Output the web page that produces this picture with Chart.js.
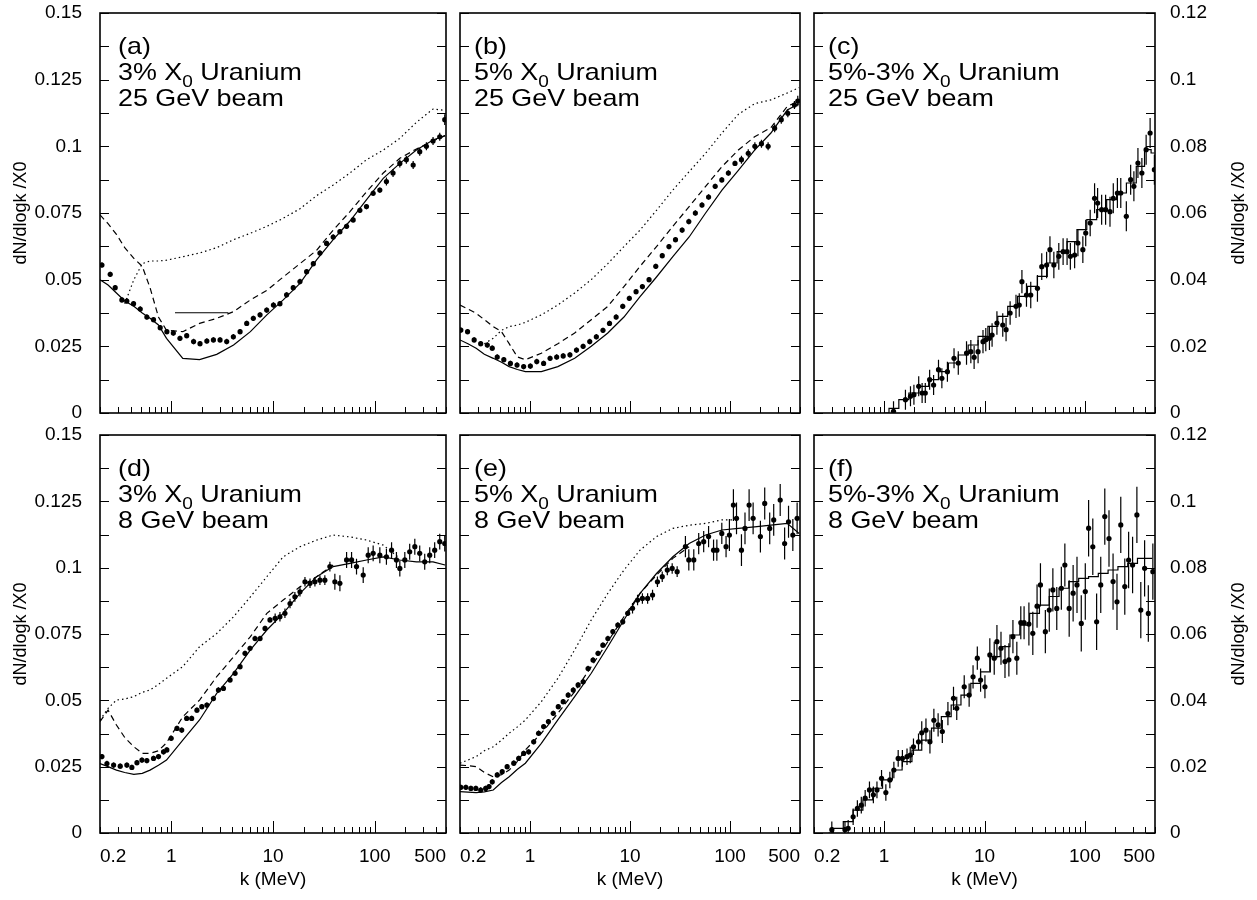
<!DOCTYPE html>
<html>
<head>
<meta charset="utf-8">
<script src="https://cdn.jsdelivr.net/npm/chart.js@4.4.1/dist/chart.umd.min.js"></script>
<style>
  body { margin: 0; background: #fff; width: 1257px; height: 900px; position: relative; overflow: hidden;
         font-family: "Liberation Sans", Arial, sans-serif; color: #000; }
  canvas { position: absolute; }
  .lab { position: absolute; font-size: 24px; line-height: 26px; white-space: nowrap;
         transform: scaleX(1.12); transform-origin: 0 0; z-index: 2; }
  .lab sub { font-size: 17px; vertical-align: -7px; line-height: 0; }
  .ytitle { position: absolute; font-size: 18px; white-space: nowrap; z-index: 2;
            transform: translate(-50%, -50%) rotate(-90deg); }
</style>
</head>
<body>
<script>
// k (MeV) grid shared by the simulated histograms of panels a, b, d, e
const K_GRID = [0.2, 0.24, 0.29, 0.35, 0.43, 0.52, 0.62, 0.75, 0.9, 1.3, 1.9, 2.8, 4.1, 6, 8.7, 12.6, 18.4, 26.8, 39, 57, 83, 121, 176, 256, 373, 490];
const X_TICKS = [0.2, 1, 10, 100, 500];

// (a) 3% X0, 25 GeV
const A_SOLID  = [0.050, 0.048, 0.045, 0.042, 0.040, 0.0375, 0.0355, 0.033, 0.028, 0.0205, 0.020, 0.022, 0.0255, 0.0305, 0.0368, 0.0424, 0.0486, 0.0574, 0.065, 0.072, 0.080, 0.088, 0.0936, 0.0986, 0.1024, 0.104];
const A_DASHED = [0.0743, 0.071, 0.067, 0.062, 0.058, 0.055, 0.047, 0.036, 0.031, 0.0305, 0.0336, 0.0355, 0.038, 0.0424, 0.046, 0.051, 0.056, 0.061, 0.0686, 0.0755, 0.083, 0.090, 0.0955, 0.099, 0.102, 0.104];
const A_DOTTED = [null, null, null, 0.041, 0.050, 0.056, 0.057, 0.057, 0.0573, 0.0586, 0.060, 0.062, 0.065, 0.0674, 0.070, 0.073, 0.0766, 0.0815, 0.0855, 0.090, 0.095, 0.0986, 0.103, 0.109, 0.114, 0.1135];
const A_BAR_K = [1.09, 3.65];
const A_BAR_Y = [0.0376, 0.0376];
const A_PT_K = [0.209, 0.252, 0.282, 0.328, 0.367, 0.427, 0.497, 0.577, 0.671, 0.780, 0.907, 1.05, 1.22, 1.42, 1.66, 1.92, 2.24, 2.60, 3.02, 3.51, 4.08, 4.75, 5.52, 6.41, 7.46, 8.67, 10.1, 11.7, 13.6, 15.8, 18.4, 21.4, 24.9, 28.9, 33.6, 39.0, 45.4, 52.8, 61.3, 71.3, 82.8, 96.3, 112, 130, 151, 176, 204, 238, 276, 321, 373, 434, 486];
const A_PT_Y = [0.0555, 0.052, 0.047, 0.0424, 0.042, 0.041, 0.039, 0.036, 0.035, 0.032, 0.0305, 0.030, 0.028, 0.029, 0.0268, 0.026, 0.027, 0.0274, 0.0274, 0.0268, 0.0286, 0.0305, 0.0336, 0.0355, 0.0368, 0.0386, 0.0405, 0.041, 0.0443, 0.047, 0.0493, 0.053, 0.056, 0.060, 0.0636, 0.066, 0.068, 0.070, 0.0724, 0.076, 0.0774, 0.0824, 0.0836, 0.0868, 0.090, 0.0936, 0.095, 0.093, 0.098, 0.100, 0.102, 0.1036, 0.110];
const A_PT_ERR = [0.001, 0.001, 0.001, 0.001, 0.001, 0.001, 0.001, 0.001, 0.001, 0.001,
  0.001, 0.001, 0.001, 0.001, 0.001, 0.001, 0.001, 0.001, 0.001, 0.001,
  0.001, 0.001, 0.001, 0.001, 0.001, 0.001, 0.001, 0.001, 0.001, 0.001,
  0.001, 0.001, 0.001, 0.001, 0.001, 0.001, 0.001, 0.001, 0.001, 0.001,
  0.001, 0.001, 0.001, 0.0015, 0.0015, 0.0015, 0.0015, 0.0015, 0.0015, 0.0015,
  0.0015, 0.0015, 0.002];

// (b) 5% X0, 25 GeV
const B_SOLID  = [0.0274, 0.026, 0.0243, 0.022, 0.0205, 0.019, 0.0174, 0.0163, 0.0155, 0.0155, 0.0174, 0.0205, 0.025, 0.030, 0.036, 0.0436, 0.051, 0.0586, 0.066, 0.075, 0.0836, 0.091, 0.0986, 0.105, 0.1136, 0.116];
const B_DASHED = [0.0405, 0.039, 0.0374, 0.035, 0.0324, 0.0305, 0.026, 0.021, 0.020, 0.0224, 0.026, 0.030, 0.035, 0.040, 0.0474, 0.055, 0.0624, 0.070, 0.0774, 0.085, 0.0924, 0.0986, 0.1036, 0.107, 0.115, 0.117];
const B_DOTTED = [null, null, null, 0.026, 0.028, 0.031, 0.0324, 0.033, 0.034, 0.0368, 0.0405, 0.045, 0.050, 0.056, 0.0624, 0.0686, 0.076, 0.0836, 0.0905, 0.0974, 0.105, 0.112, 0.116, 0.1174, 0.120, 0.122];
const B_PT_K = [0.204, 0.238, 0.277, 0.322, 0.375, 0.420, 0.471, 0.548, 0.638, 0.743, 0.865, 1.01, 1.17, 1.37, 1.59, 1.85, 2.15, 2.51, 2.92, 3.40, 3.96, 4.61, 5.37, 6.24, 7.27, 8.46, 9.85, 11.5, 13.3, 15.5, 18.1, 21.0, 24.5, 28.5, 33.2, 38.7, 45.0, 52.4, 61.0, 71.0, 82.7, 96.2, 112, 130, 152, 177, 206, 240, 279, 325, 378, 440, 475];
const B_PT_Y = [0.0311, 0.0305, 0.0274, 0.026, 0.0255, 0.0243, 0.021, 0.020, 0.0186, 0.018, 0.0174, 0.0176, 0.0193, 0.0186, 0.0205, 0.021, 0.0214, 0.0218, 0.0236, 0.025, 0.0268, 0.0286, 0.031, 0.0336, 0.036, 0.040, 0.043, 0.0455, 0.0474, 0.050, 0.055, 0.059, 0.0624, 0.065, 0.0686, 0.0718, 0.075, 0.078, 0.081, 0.085, 0.0874, 0.090, 0.0936, 0.095, 0.0974, 0.100, 0.101, 0.100, 0.1068, 0.110, 0.1124, 0.1155, 0.117];
const B_PT_ERR = [0.001, 0.001, 0.001, 0.001, 0.001, 0.001, 0.001, 0.001, 0.001, 0.001,
  0.001, 0.001, 0.001, 0.001, 0.001, 0.001, 0.001, 0.001, 0.001, 0.001,
  0.001, 0.001, 0.001, 0.001, 0.001, 0.001, 0.001, 0.001, 0.001, 0.001,
  0.001, 0.001, 0.001, 0.001, 0.001, 0.001, 0.001, 0.001, 0.001, 0.001,
  0.001, 0.001, 0.001, 0.0015, 0.0015, 0.0015, 0.0015, 0.0015, 0.0015, 0.0015,
  0.0015, 0.0015, 0.002];

// (c) 5%-3% X0, 25 GeV
const C_HIST_K = [1.0, 1.25, 1.57, 1.98, 2.48, 3.11, 3.9, 4.89, 6.14, 7.7, 9.66, 12.1, 15.2, 19.1, 23.9, 30, 37.7, 47.3, 59.3, 74.5, 93.4, 117, 147, 185, 232, 290, 365, 424, 493];
const C_HIST_Y = [0, 0.0014, 0.004, 0.006, 0.008, 0.010, 0.0124, 0.015, 0.0174, 0.0204, 0.023, 0.026, 0.029, 0.032, 0.035, 0.038, 0.041, 0.045, 0.0484, 0.0514, 0.055, 0.058, 0.061, 0.064, 0.066, 0.069, 0.074, 0.079, 0.078];
const C_PT_K = [1.24, 1.63, 1.83, 1.98, 2.21, 2.39, 2.57, 2.84, 3.11, 3.48, 3.76, 4.27, 4.97, 5.48, 6.62, 7.31, 7.88, 8.63, 9.66, 10.3, 11.2, 11.9, 13.3, 15.2, 16.4, 18.0, 20.6, 22.2, 23.6, 26.2, 28.9, 33.7, 37.2, 41.6, 44.9, 49.1, 55.0, 60.7, 66.5, 71.7, 79.1, 85.3, 95.5, 102, 113, 125, 134, 147, 161, 178, 192, 211, 228, 259, 286, 308, 338, 370, 408, 447, 493];
const C_PT_Y = [0.0005, 0.004, 0.005, 0.0055, 0.008, 0.006, 0.006, 0.010, 0.0084, 0.013, 0.0104, 0.0124, 0.0164, 0.015, 0.018, 0.0184, 0.0167, 0.0184, 0.0214, 0.022, 0.0224, 0.0234, 0.027, 0.0264, 0.025, 0.030, 0.032, 0.0324, 0.0394, 0.0354, 0.0354, 0.0374, 0.0439, 0.0444, 0.049, 0.0444, 0.047, 0.0484, 0.0484, 0.047, 0.0474, 0.051, 0.049, 0.054, 0.057, 0.0644, 0.063, 0.061, 0.061, 0.0604, 0.0644, 0.066, 0.066, 0.059, 0.070, 0.068, 0.075, 0.072, 0.079, 0.084, 0.073];
const C_PT_ERR = [0.003, 0.003, 0.003, 0.003, 0.003, 0.003, 0.003, 0.003, 0.003, 0.003,
  0.003, 0.003, 0.003, 0.0035, 0.0035, 0.0035, 0.0035, 0.0035, 0.0035, 0.0035,
  0.0035, 0.0035, 0.0035, 0.0035, 0.0035, 0.0035, 0.0035, 0.0035, 0.0035, 0.0035,
  0.004, 0.004, 0.004, 0.004, 0.004, 0.004, 0.004, 0.004, 0.004, 0.004,
  0.004, 0.004, 0.004, 0.004, 0.004, 0.0045, 0.0045, 0.0045, 0.0045, 0.0045,
  0.0045, 0.0045, 0.0045, 0.0045, 0.0045, 0.0045, 0.0045, 0.0045, 0.0045, 0.0045, 0.0045];

// (d) 3% X0, 8 GeV
const D_SOLID  = [0.0262, 0.025, 0.0237, 0.0228, 0.0221, 0.0225, 0.0237, 0.0255, 0.0275, 0.035, 0.0426, 0.0526, 0.0602, 0.069, 0.0765, 0.0828, 0.0903, 0.0966, 0.1004, 0.1016, 0.1029, 0.1041, 0.1029, 0.1022, 0.1022, 0.101];
const D_DASHED = [0.042, 0.0463, 0.0407, 0.036, 0.0325, 0.030, 0.030, 0.031, 0.034, 0.0438, 0.0501, 0.0589, 0.0664, 0.074, 0.0828, 0.0878, 0.0928, 0.0966, 0.101, null, null, null, null, null, null, null];
const D_DOTTED = [0.0426, 0.047, 0.0501, 0.0505, 0.0514, 0.053, 0.0539, 0.056, 0.0583, 0.0627, 0.0702, 0.0752, 0.0815, 0.089, 0.0966, 0.1041, 0.1079, 0.1104, 0.1123, 0.1116, 0.1104, 0.1085, 0.1035, null, null, null];
const D_PT_K = [0.209, 0.234, 0.272, 0.316, 0.367, 0.411, 0.461, 0.516, 0.577, 0.671, 0.751, 0.841, 0.907, 1.0, 1.14, 1.27, 1.42, 1.59, 1.79, 2.0, 2.24, 2.60, 2.91, 3.26, 3.79, 4.24, 4.75, 5.31, 5.95, 6.66, 7.46, 8.35, 9.34, 10.5, 11.7, 13.1, 14.7, 16.4, 18.4, 20.6, 23.1, 25.8, 28.9, 32.3, 36.2, 40.5, 45.4, 52.8, 59.1, 66.1, 76.9, 86.1, 96.3, 112, 130, 146, 163, 176, 197, 220, 247, 276, 309, 346, 387, 434, 486];
const D_PT_Y = [0.0288, 0.0262, 0.0256, 0.0252, 0.0256, 0.0247, 0.0265, 0.0275, 0.0273, 0.0281, 0.0288, 0.0306, 0.0313, 0.0357, 0.0394, 0.0388, 0.0432, 0.0432, 0.0463, 0.0476, 0.0482, 0.0507, 0.0539, 0.0545, 0.0577, 0.0602, 0.0627, 0.0677, 0.0696, 0.0733, 0.0733, 0.0771, 0.0803, 0.0809, 0.0815, 0.0828, 0.0865, 0.089, 0.0909, 0.0947, 0.0941, 0.0947, 0.0953, 0.0953, 0.1004, 0.0947, 0.0941, 0.1029, 0.1029, 0.1004, 0.0972, 0.1047, 0.1054, 0.1047, 0.1041, 0.1066, 0.1029, 0.0997, 0.1029, 0.106, 0.1079, 0.1054, 0.1022, 0.1047, 0.1066, 0.1098, 0.1091];
const D_PT_ERR = [0.001, 0.001, 0.001, 0.001, 0.001, 0.001, 0.001, 0.001, 0.001, 0.001,
  0.001, 0.001, 0.001, 0.001, 0.001, 0.001, 0.001, 0.001, 0.001, 0.001,
  0.001, 0.001, 0.001, 0.001, 0.001, 0.001, 0.001, 0.001, 0.001, 0.001,
  0.001, 0.001, 0.001, 0.0018, 0.0018, 0.0018, 0.0018, 0.0018, 0.0018, 0.0018,
  0.0018, 0.0018, 0.0018, 0.0018, 0.0018, 0.003, 0.003, 0.003, 0.003, 0.003,
  0.003, 0.003, 0.003, 0.003, 0.003, 0.003, 0.003, 0.003, 0.003, 0.003,
  0.003, 0.003, 0.003, 0.003, 0.003, 0.003, 0.003];

// (e) 5% X0, 8 GeV
const E_SOLID  = [0.0156, 0.0154, 0.0152, 0.0155, 0.0162, 0.019, 0.0212, 0.024, 0.0263, 0.0338, 0.0426, 0.0514, 0.0602, 0.0702, 0.0803, 0.0903, 0.0978, 0.1041, 0.1091, 0.1123, 0.1142, 0.1148, 0.1154, 0.116, 0.1167, 0.1129];
const E_DASHED = [0.0256, 0.0254, 0.025, 0.0228, 0.0212, 0.022, 0.0237, 0.027, 0.0313, 0.0376, 0.0451, 0.0533, 0.0627, 0.0721, 0.0815, 0.0903, 0.0972, 0.1035, 0.1079, null, null, null, null, null, null, null];
const E_DOTTED = [0.0263, 0.0275, 0.0288, 0.031, 0.0325, 0.035, 0.0376, 0.040, 0.0426, 0.0495, 0.0583, 0.069, 0.0803, 0.0903, 0.0991, 0.1066, 0.1117, 0.1148, 0.116, 0.1167, 0.118, 0.118, null, null, null, null];
const E_PT_K = [0.204, 0.229, 0.257, 0.288, 0.322, 0.361, 0.390, 0.420, 0.471, 0.528, 0.592, 0.689, 0.772, 0.865, 0.970, 1.09, 1.22, 1.37, 1.53, 1.71, 1.92, 2.15, 2.41, 2.71, 3.03, 3.40, 3.81, 4.27, 4.79, 5.36, 6.01, 6.74, 7.55, 8.46, 9.48, 10.6, 11.9, 13.3, 15.0, 16.8, 18.8, 21.0, 23.6, 26.4, 29.6, 35.8, 38.7, 43.4, 48.6, 54.5, 61.0, 68.4, 73.8, 82.7, 91.2, 98.5, 108, 116, 130, 141, 155, 170, 201, 222, 249, 273, 317, 351, 384, 424, 468];
const E_PT_Y = [0.0172, 0.0172, 0.0168, 0.0168, 0.0162, 0.0168, 0.0175, 0.0193, 0.0219, 0.0231, 0.025, 0.0263, 0.0281, 0.030, 0.0306, 0.0344, 0.0376, 0.0401, 0.042, 0.0451, 0.0476, 0.0495, 0.052, 0.0539, 0.0558, 0.057, 0.062, 0.0652, 0.0677, 0.0708, 0.0733, 0.0759, 0.0784, 0.0796, 0.0828, 0.0847, 0.0878, 0.0884, 0.0884, 0.0897, 0.0947, 0.0966, 0.0991, 0.0997, 0.0985, 0.1079, 0.1029, 0.1029, 0.1091, 0.1098, 0.1117, 0.1066, 0.1066, 0.1129, 0.1079, 0.1123, 0.1236, 0.1186, 0.1066, 0.1148, 0.1236, 0.1186, 0.1117, 0.1242, 0.1148, 0.118, 0.1255, 0.1091, 0.1173, 0.1123, 0.1186];
const E_PT_ERR = [0.001, 0.001, 0.001, 0.001, 0.001, 0.001, 0.001, 0.001, 0.001, 0.001,
  0.001, 0.001, 0.001, 0.001, 0.001, 0.001, 0.001, 0.001, 0.001, 0.001,
  0.001, 0.001, 0.001, 0.001, 0.001, 0.001, 0.001, 0.001, 0.001, 0.001,
  0.001, 0.001, 0.001, 0.001, 0.001, 0.002, 0.002, 0.002, 0.002, 0.002,
  0.002, 0.002, 0.002, 0.002, 0.002, 0.004, 0.004, 0.004, 0.004, 0.004,
  0.004, 0.004, 0.004, 0.004, 0.004, 0.006, 0.006, 0.006, 0.006, 0.006,
  0.006, 0.006, 0.006, 0.006, 0.006, 0.006, 0.006, 0.006, 0.006, 0.006, 0.006];

// (f) 5%-3% X0, 8 GeV
const F_HIST_K = [0.279, 0.35, 0.438, 0.549, 0.687, 0.861, 1.08, 1.35, 1.69, 2.12, 2.65, 3.32, 4.16, 5.21, 6.52, 8.17, 10.2, 12.8, 16.0, 20.1, 25.2, 31.5, 39.5, 49.4, 61.9, 77.5, 97.1, 122, 152, 191, 239, 299, 374, 469];
const F_HIST_Y = [0, 0.0014, 0.0034, 0.0069, 0.010, 0.0135, 0.016, 0.019, 0.0215, 0.025, 0.028, 0.0316, 0.0351, 0.0386, 0.0416, 0.0451, 0.0486, 0.0532, 0.0562, 0.0597, 0.0627, 0.0662, 0.0687, 0.0713, 0.0738, 0.0758, 0.0768, 0.0773, 0.0783, 0.0793, 0.0803, 0.0813, 0.0828, 0.0828];
const F_PT_K = [0.301, 0.407, 0.438, 0.491, 0.541, 0.592, 0.647, 0.714, 0.781, 0.848, 0.942, 1.04, 1.14, 1.25, 1.38, 1.52, 1.69, 1.82, 1.96, 2.20, 2.37, 2.61, 2.86, 3.13, 3.45, 3.80, 4.32, 4.91, 5.29, 6.28, 7.03, 7.69, 8.48, 9.14, 10.1, 11.3, 12.5, 13.3, 14.6, 16.0, 17.5, 19.2, 21.0, 23.0, 24.8, 27.7, 30.3, 33.4, 36.1, 40.4, 44.2, 48.0, 52.5, 58.3, 63.2, 69.8, 76.4, 83.5, 92.1, 101, 109, 120, 131, 144, 158, 174, 191, 209, 228, 250, 273, 299, 330, 361, 394, 429, 476];
const F_PT_Y = [0.001, 0.001, 0.0014, 0.0049, 0.0074, 0.0084, 0.0105, 0.013, 0.0115, 0.013, 0.0165, 0.0122, 0.016, 0.019, 0.0225, 0.0225, 0.023, 0.0235, 0.026, 0.0275, 0.0302, 0.031, 0.0275, 0.034, 0.0326, 0.0306, 0.036, 0.0406, 0.0376, 0.0441, 0.0416, 0.0471, 0.0527, 0.0461, 0.0441, 0.0537, 0.0527, 0.0577, 0.0557, 0.0517, 0.0522, 0.0592, 0.0527, 0.0634, 0.0634, 0.063, 0.0602, 0.0684, 0.0748, 0.0607, 0.0672, 0.0733, 0.0677, 0.0738, 0.0808, 0.0677, 0.0723, 0.0748, 0.0632, 0.0728, 0.0919, 0.0863, 0.0637, 0.0748, 0.0954, 0.0888, 0.0758, 0.0697, 0.0929, 0.0743, 0.0823, 0.0808, 0.0959, 0.0672, 0.0798, 0.0662, 0.0788];
const F_PT_ERR = [0.0025, 0.0025, 0.0025, 0.0025, 0.0025, 0.0025, 0.0025, 0.0025, 0.0025, 0.0025,
  0.0025, 0.0025, 0.0025, 0.0025, 0.0025, 0.0025, 0.0025, 0.0025, 0.0025, 0.0025,
  0.0035, 0.0035, 0.0035, 0.0035, 0.0035, 0.0035, 0.0035, 0.0035, 0.0035, 0.0035,
  0.0035, 0.0035, 0.0035, 0.0035, 0.0035, 0.005, 0.005, 0.005, 0.005, 0.005,
  0.005, 0.005, 0.005, 0.005, 0.005, 0.0065, 0.0065, 0.0065, 0.0065, 0.0065,
  0.0065, 0.0065, 0.0065, 0.0065, 0.0065, 0.0085, 0.0085, 0.0085, 0.0085, 0.0085,
  0.0085, 0.0085, 0.0085, 0.0085, 0.0085, 0.0085, 0.0085, 0.0085, 0.0085, 0.0085,
  0.0085, 0.0085, 0.0085, 0.0085, 0.0085, 0.0085, 0.0085];

const TAGS = ['(a)', '(b)', '(c)', '(d)', '(e)', '(f)'];
const TARGETS = ['3%', '5%', '5%-3%'];
const BEAMS = ['25 GeV beam', '8 GeV beam'];
const Y_TITLE = 'dN/dlogk /X0';

// page layout of the 3 x 2 grid
const COLS = [
  { left: 0,   width: 452, padR: 6, yAxis: 'left',  yMax: 0.15, yStep: 0.025, yMinor: 0.0125, plotLeft: 100 },
  { left: 456, width: 350, padR: 6, yAxis: null,    yMax: 0.15, yStep: 0.025, yMinor: 0.0125, plotLeft: 456 },
  { left: 810, width: 447, padR: 0, yAxis: 'right', yMax: 0.12, yStep: 0.02,  yMinor: 0.01,   plotLeft: 810 }
];
const ROWS = [
  { top: 0,   height: 430, padT: 13, padB: 17, xAxis: false },
  { top: 425, height: 475, padT: 10, padB: 0,  xAxis: true }
];

function pairs(ks, ys) {
  return ks.map((k, i) => ({ x: k, y: ys[i] }));
}
function hist(ks, ys, dash, stepped) {
  return { data: pairs(ks, ys), borderColor: '#000', borderWidth: 1.2, borderDash: dash || [],
           pointRadius: 0, stepped: stepped || false, spanGaps: false, fill: false, tension: 0 };
}
function points(ks, ys, errs) {
  return { data: pairs(ks, ys), errors: errs, showLine: false, pointRadius: 2.6,
           pointBackgroundColor: '#000', pointBorderColor: '#000', pointBorderWidth: 0 };
}

const DASH = [6, 4];
const DOT = [1.5, 3];
const PANEL_SETS = [
  [hist(K_GRID, A_SOLID), hist(K_GRID, A_DASHED, DASH), hist(K_GRID, A_DOTTED, DOT), hist(A_BAR_K, A_BAR_Y), points(A_PT_K, A_PT_Y, A_PT_ERR)],
  [hist(K_GRID, B_SOLID), hist(K_GRID, B_DASHED, DASH), hist(K_GRID, B_DOTTED, DOT), points(B_PT_K, B_PT_Y, B_PT_ERR)],
  [hist(C_HIST_K, C_HIST_Y, null, 'middle'), points(C_PT_K, C_PT_Y, C_PT_ERR)],
  [hist(K_GRID, D_SOLID), hist(K_GRID, D_DASHED, DASH), hist(K_GRID, D_DOTTED, DOT), points(D_PT_K, D_PT_Y, D_PT_ERR)],
  [hist(K_GRID, E_SOLID), hist(K_GRID, E_DASHED, DASH), hist(K_GRID, E_DOTTED, DOT), points(E_PT_K, E_PT_Y, E_PT_ERR)],
  [hist(F_HIST_K, F_HIST_Y, null, 'middle'), points(F_PT_K, F_PT_Y, F_PT_ERR)]
];

// box with inward ticks, ROOT style
const frame = {
  id: 'frame',
  afterDatasetsDraw(chart, args, opts) {
    const { ctx, chartArea: a, scales: { x, y } } = chart;
    ctx.save();
    ctx.strokeStyle = '#000';
    ctx.lineWidth = 1;
    ctx.beginPath();
    const n = Math.round(y.max / opts.minor);
    for (let i = 0; i <= n; i++) {
      const py = Math.round(y.getPixelForValue(i * opts.minor)) + 0.5;
      ctx.moveTo(a.left, py); ctx.lineTo(a.left + 9, py);
      ctx.moveTo(a.right - 9, py); ctx.lineTo(a.right, py);
    }
    for (let e = -1; e <= 2; e++) {
      for (let m = 1; m <= 9; m++) {
        const v = m * Math.pow(10, e);
        if (v < 0.2 || v > 500) continue;
        const px = Math.round(x.getPixelForValue(v)) + 0.5;
        ctx.moveTo(px, a.bottom); ctx.lineTo(px, a.bottom - (m === 1 ? 12 : 6));
      }
    }
    ctx.stroke();
    ctx.lineWidth = 1.6;
    ctx.strokeRect(a.left, a.top, a.right - a.left, a.bottom - a.top);
    ctx.restore();
  }
};

const errorBars = {
  id: 'errorBars',
  afterDatasetsDraw(chart) {
    const { ctx, chartArea: a, scales: { x, y } } = chart;
    ctx.save();
    ctx.beginPath();
    ctx.rect(a.left, a.top, a.right - a.left, a.bottom - a.top);
    ctx.clip();
    ctx.strokeStyle = '#000';
    ctx.lineWidth = 1.2;
    ctx.beginPath();
    chart.data.datasets.forEach(ds => {
      if (!ds.errors) return;
      ds.data.forEach((p, j) => {
        const px = x.getPixelForValue(p.x);
        ctx.moveTo(px, y.getPixelForValue(p.y - ds.errors[j]));
        ctx.lineTo(px, y.getPixelForValue(p.y + ds.errors[j]));
      });
    });
    ctx.stroke();
    ctx.restore();
  }
};

Chart.defaults.font.family = '"Liberation Sans", Arial, sans-serif';
Chart.defaults.color = '#000';

ROWS.forEach((row, r) => {
  COLS.forEach((col, c) => {
    const idx = r * 3 + c;
    const cv = document.createElement('canvas');
    cv.width = col.width; cv.height = row.height;
    cv.style.left = col.left + 'px'; cv.style.top = row.top + 'px';
    document.body.appendChild(cv);

    new Chart(cv, {
      type: 'line',
      data: { datasets: PANEL_SETS[idx] },
      options: {
        responsive: false,
        animation: false,
        layout: { padding: { top: row.padT, bottom: row.padB, left: 0, right: col.padR } },
        plugins: { legend: { display: false }, tooltip: { enabled: false }, frame: { minor: col.yMinor } },
        scales: {
          x: {
            type: 'logarithmic', min: 0.2, max: 500, display: row.xAxis,
            grid: { display: false, drawTicks: false }, border: { display: false },
            afterBuildTicks: ax => { ax.ticks = X_TICKS.map(v => ({ value: v })); },
            afterFit: ax => { ax.height = row.xAxis ? 67 : 0; ax.paddingLeft = 0; ax.paddingRight = 0; },
            ticks: { align: 'inner', maxRotation: 0, autoSkip: false, padding: 12, color: '#000',
                     font: { size: 19 }, callback: v => String(v) },
            title: { display: true, text: 'k (MeV)', color: '#000', font: { size: 19 },
                     padding: { top: 0, bottom: 9 } }
          },
          y: {
            min: 0, max: col.yMax, position: col.yAxis || 'left', display: !!col.yAxis,
            grid: { display: false, drawTicks: false }, border: { display: false },
            afterFit: ax => {
              ax.width = col.yAxis === 'right' ? 102 : (col.yAxis ? 100 : 0);
              ax.paddingTop = 0; ax.paddingBottom = 0;
            },
            ticks: { stepSize: col.yStep, color: '#000', font: { size: 19 },
                     padding: col.yAxis === 'right' ? 15 : 18,
                     callback: v => String(+v.toFixed(4)) },
            title: { display: col.yAxis === 'left', text: Y_TITLE, color: '#000', font: { size: 18 },
                     padding: { top: 10, bottom: 0 } }
          }
        }
      },
      plugins: [frame, errorBars]
    });

    // panel caption
    const lab = document.createElement('div');
    lab.className = 'lab';
    lab.style.left = (col.plotLeft + 18) + 'px';
    lab.style.top = (row.top + row.padT + 20) + 'px';
    lab.innerHTML = TAGS[idx] + '<br>' + TARGETS[c] + ' X<sub>0</sub> Uranium<br>' + BEAMS[r];
    document.body.appendChild(lab);

    if (col.yAxis === 'right') {
      const t = document.createElement('div');
      t.className = 'ytitle';
      t.textContent = Y_TITLE;
      t.style.left = '1238px';
      t.style.top = (row.top + row.padT + (row.height - row.padT - row.padB - (row.xAxis ? 67 : 0)) / 2) + 'px';
      document.body.appendChild(t);
    }
  });
});
</script>
</body>
</html>
